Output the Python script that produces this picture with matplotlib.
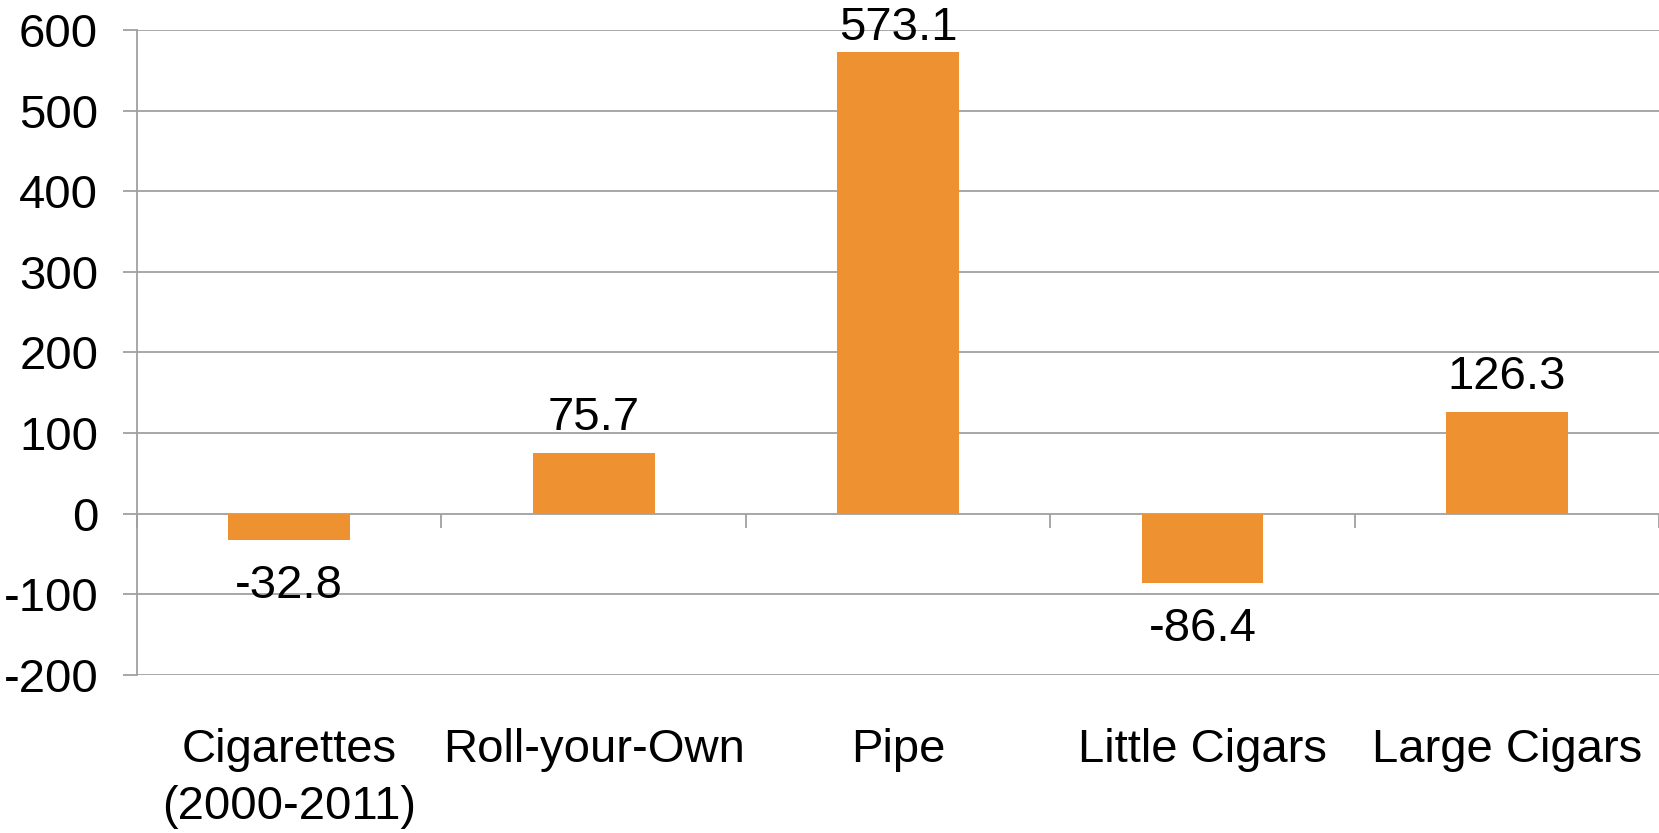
import matplotlib.pyplot as plt

plt.rcParams['font.family'] = ['Liberation Sans', 'DejaVu Sans']

categories = ['Cigarettes\n(2000-2011)', 'Roll-your-Own', 'Pipe', 'Little Cigars', 'Large Cigars']
values = [-32.8, 75.7, 573.1, -86.4, 126.3]
labels = ['-32.8', '75.7', '573.1', '-86.4', '126.3']
yticks = [-200, -100, 0, 100, 200, 300, 400, 500, 600]

grid_color = '#A0A0A0'
bar_color = '#EE9130'
fs = 34

fig = plt.figure(figsize=(16.59, 8.33), dpi=100)
ax = fig.add_axes([0.0826, 0.19, 0.9174, 0.774])

x = list(range(len(categories)))
ax.bar(x, values, width=0.4, color=bar_color, zorder=3)

# data labels: above positive bars, below negative ones
# (the tallest one gets squeezed in under the top edge like Excel does)
for xi, v, lab in zip(x, values, labels):
    if v >= 0:
        off = 9 if v < 500 else 1
    else:
        off = -17
    ax.annotate(lab, (xi, v), xytext=(0, off), textcoords='offset points',
                ha='center', va='bottom' if v >= 0 else 'top', fontsize=fs, zorder=4,
                annotation_clip=False)

ax.set_xlim(-0.5, len(categories) - 0.5)
ax.set_ylim(-200, 600)
ax.set_yticks(yticks)
ax.set_yticklabels([str(t) for t in yticks])
ax.yaxis.grid(True, color=grid_color, linewidth=1.3, zorder=0)

ax.set_xticks(x)
ax.set_xticklabels(categories, fontsize=fs, linespacing=1.4)
ax.tick_params(axis='x', length=0, pad=38)
ax.tick_params(axis='y', labelsize=fs, length=10, width=1.3, color=grid_color, pad=18)

for s in ['top', 'right', 'bottom']:
    ax.spines[s].set_visible(False)
ax.spines['left'].set_color(grid_color)
ax.spines['left'].set_linewidth(1.3)

# category separator ticks hanging from the zero line
sec = ax.secondary_xaxis(0.25)
sec.set_xticks([i - 0.5 for i in range(len(categories) + 1)])
sec.set_xticklabels([])
sec.tick_params(axis='x', length=10, width=1.3, color=grid_color, direction='out')
sec.spines['bottom'].set_visible(False)

fig.savefig('out.png', dpi=100)
